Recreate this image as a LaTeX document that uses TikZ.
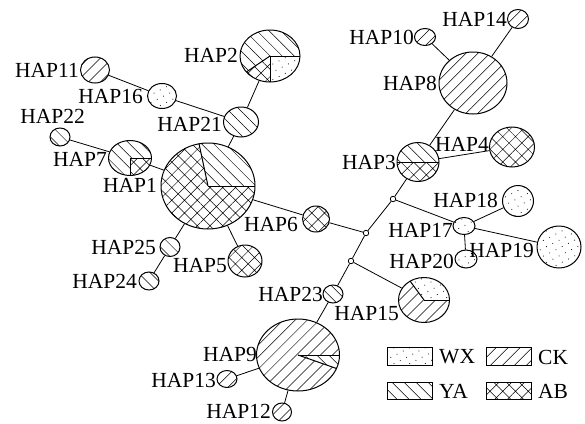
\documentclass[tikz,border=0pt]{standalone}
\usepackage{fontspec}
\setmainfont{Liberation Serif}
\newfontfamily\labfont{Liberation Serif}
\usetikzlibrary{shapes.geometric,patterns.meta}
\tikzset{
  hap/.style={ellipse, draw, line width=1pt, inner sep=0pt, fill=white},
  ckp/.style={pattern={Lines[angle=45,distance=8.5pt,line width=0.5pt]}},
  yap/.style={pattern={Lines[angle=-45,distance=8.5pt,line width=0.5pt]}},
  abp/.style={pattern={Hatch[angle=45,distance=9pt,line width=0.5pt]}},
  wxp/.style={pattern={Dots[angle=27,distance=7pt,radius=0.55pt]}},
  CK/.style={hap, postaction={ckp}},
  YA/.style={hap, postaction={yap}},
  AB/.style={hap, postaction={abp}},
  WX/.style={hap, postaction={wxp}},
  mv/.style={circle, draw, line width=0.8pt, minimum size=5.5pt, inner sep=0pt, fill=white},
  link/.style={line width=0.8pt},
  seg/.style={line width=1pt},
  lab/.style={font=\labfont\fontsize{21.5}{23}\selectfont, inner sep=0pt, anchor=east},
  leglab/.style={font=\labfont\fontsize{21.5}{23}\selectfont, inner sep=0pt, anchor=west},
  legbox/.style={draw, line width=0.8pt, minimum width=45pt, minimum height=18pt, inner sep=0pt}
}
\newcommand\hapslice[6]{\fill[#6] (#1) -- ++(#4:#2pt and #3pt) arc[start angle=#4,end angle=#5,x radius=#2pt,y radius=#3pt] -- cycle;}
\newcommand\hapray[4]{\draw[seg] (#1) -- ++(#4:#2pt and #3pt);}
\begin{document}
\begin{tikzpicture}[x=1pt,y=1pt]
\useasboundingbox (0,0) rectangle (585,-423);
% haplotype nodes
\node[hap, minimum width=94pt, minimum height=86pt] (h1) at (208,-186) {};
\node[hap, minimum width=60pt, minimum height=52pt] (h2) at (270,-56) {};
\node[hap, minimum width=42pt, minimum height=39pt] (h3) at (418,-162) {};
\node[AB, minimum width=45pt, minimum height=40pt] (h4) at (512,-147) {};
\node[AB, minimum width=34pt, minimum height=32pt] (h5) at (245,-261) {};
\node[AB, minimum width=27pt, minimum height=26pt] (h6) at (316,-219) {};
\node[hap, minimum width=43pt, minimum height=35pt] (h7) at (130,-158) {};
\node[CK, minimum width=68pt, minimum height=62pt] (h8) at (473,-83) {};
\node[hap, minimum width=83pt, minimum height=72pt] (h9) at (298,-355) {};
\node[CK, minimum width=21pt, minimum height=17pt] (h10) at (425,-37) {};
\node[CK, minimum width=29pt, minimum height=26pt] (h11) at (95,-70) {};
\node[CK, minimum width=19pt, minimum height=18pt] (h12) at (282,-412) {};
\node[CK, minimum width=20pt, minimum height=17pt] (h13) at (227,-379) {};
\node[CK, minimum width=21pt, minimum height=19pt] (h14) at (518,-19) {};
\node[hap, minimum width=51pt, minimum height=45pt] (h15) at (424,-300) {};
\node[WX, minimum width=29pt, minimum height=25pt] (h16) at (162,-96) {};
\node[WX, minimum width=22pt, minimum height=17pt] (h17) at (464,-226) {};
\node[WX, minimum width=31pt, minimum height=31pt] (h18) at (518,-201) {};
\node[WX, minimum width=44pt, minimum height=42pt] (h19) at (559,-247) {};
\node[WX, minimum width=22pt, minimum height=18pt] (h20) at (466,-259) {};
\node[YA, minimum width=35pt, minimum height=30pt] (h21) at (241,-122) {};
\node[YA, minimum width=20pt, minimum height=18pt] (h22) at (60,-137) {};
\node[YA, minimum width=20pt, minimum height=18pt] (h23) at (333,-294) {};
\node[YA, minimum width=20pt, minimum height=18pt] (h24) at (149,-281) {};
\node[YA, minimum width=20pt, minimum height=19pt] (h25) at (170,-247) {};
% median vectors
\node[mv] (m1) at (393,-199) {};
\node[mv] (m2) at (366,-233) {};
\node[mv] (m3) at (351,-261) {};
% pie slices
\hapslice{h1.center}{47}{43}{0}{101}{yap}
\hapslice{h1.center}{47}{43}{101}{360}{abp}
\hapray{h1.center}{47}{43}{0}
\hapray{h1.center}{47}{43}{101}
\hapslice{h2.center}{30}{26}{0}{218}{yap}
\hapslice{h2.center}{30}{26}{218}{270}{abp}
\hapslice{h2.center}{30}{26}{270}{360}{wxp}
\hapray{h2.center}{30}{26}{0}
\hapray{h2.center}{30}{26}{218}
\hapray{h2.center}{30}{26}{270}
\hapslice{h7.center}{21.5}{17.5}{0}{270}{yap}
\hapslice{h7.center}{21.5}{17.5}{270}{360}{abp}
\hapray{h7.center}{21.5}{17.5}{0}
\hapray{h7.center}{21.5}{17.5}{270}
\hapslice{h3.center}{21}{19.5}{0}{180}{yap}
\hapslice{h3.center}{21}{19.5}{180}{360}{abp}
\hapray{h3.center}{21}{19.5}{0}
\hapray{h3.center}{21}{19.5}{180}
\hapslice{h15.center}{25.5}{22.5}{0}{123}{wxp}
\hapslice{h15.center}{25.5}{22.5}{123}{360}{ckp}
\hapray{h15.center}{25.5}{22.5}{0}
\hapray{h15.center}{25.5}{22.5}{123}
\hapslice{h9.center}{41.5}{36}{0}{338}{ckp}
\hapslice{h9.center}{41.5}{36}{-22}{0}{yap}
\hapray{h9.center}{41.5}{36}{0}
\hapray{h9.center}{41.5}{36}{-22}
% connectors
\draw[link] (h11) -- (h16);
\draw[link] (h16) -- (h21);
\draw[link] (h21) -- (h2);
\draw[link] (h21) -- (h1);
\draw[link] (h22) -- (h7);
\draw[link] (h7) -- (h1);
\draw[link] (h1) -- (h25);
\draw[link] (h25) -- (h24);
\draw[link] (h1) -- (h5);
\draw[link] (h1) -- (h6);
\draw[link] (h6) -- (m2);
\draw[link] (m2) -- (m1);
\draw[link] (m1) -- (h3);
\draw[link] (h3) -- (h8);
\draw[link] (h8) -- (h10);
\draw[link] (h8) -- (h14);
\draw[link] (h3) -- (h4);
\draw[link] (m1) -- (h17);
\draw[link] (h17) -- (h18);
\draw[link] (h17) -- (h19);
\draw[link] (h17) -- (h20);
\draw[link] (m2) -- (m3);
\draw[link] (m3) -- (h15);
\draw[link] (m3) -- (h23);
\draw[link] (h23) -- (h9);
\draw[link] (h9) -- (h13);
\draw[link] (h9) -- (h12);
% labels
\node[lab] (t1) at (157,-185) {HAP1};
\node[lab] (t2) at (238,-55) {HAP2};
\node[lab] (t3) at (396,-162) {HAP3};
\node[lab] (t4) at (489,-144) {HAP4};
\node[lab] (t5) at (227,-266) {HAP5};
\node[lab] (t6) at (298,-224) {HAP6};
\node[lab] (t7) at (107,-159) {HAP7};
\node[lab] (t8) at (437,-83) {HAP8};
\node[lab] (t9) at (257,-354) {HAP9};
\node[lab] (t10) at (414,-37) {HAP10};
\node[lab] (t11) at (79,-70) {HAP11};
\node[lab] (t12) at (271,-411) {HAP12};
\node[lab] (t13) at (216,-380) {HAP13};
\node[lab] (t14) at (507,-19) {HAP14};
\node[lab] (t15) at (399,-314) {HAP15};
\node[lab] (t16) at (143,-96) {HAP16};
\node[lab] (t17) at (453,-230) {HAP17};
\node[lab] (t18) at (498,-200) {HAP18};
\node[lab] (t19) at (534,-250) {HAP19};
\node[lab] (t20) at (454,-261) {HAP20};
\node[lab] (t21) at (222,-124) {HAP21};
\node[lab] (t22) at (85,-116) {HAP22};
\node[lab] (t23) at (323,-294) {HAP23};
\node[lab] (t24) at (137,-281) {HAP24};
\node[lab] (t25) at (156,-247) {HAP25};
% legend
\node[legbox, wxp] (bwx) at (409.5,-356.5) {};
\node[legbox, ckp] (bck) at (508.5,-356.5) {};
\node[legbox, minimum height=17pt, yap] (bya) at (409.5,-390.5) {};
\node[legbox, minimum height=17pt, abp] (bab) at (508.5,-390.5) {};
\node[leglab] (lwx) at (439,-357) {WX};
\node[leglab] (lck) at (538,-357) {CK};
\node[leglab] (lya) at (439,-391) {YA};
\node[leglab] (lab) at (538,-391) {AB};
\end{tikzpicture}
\end{document}
